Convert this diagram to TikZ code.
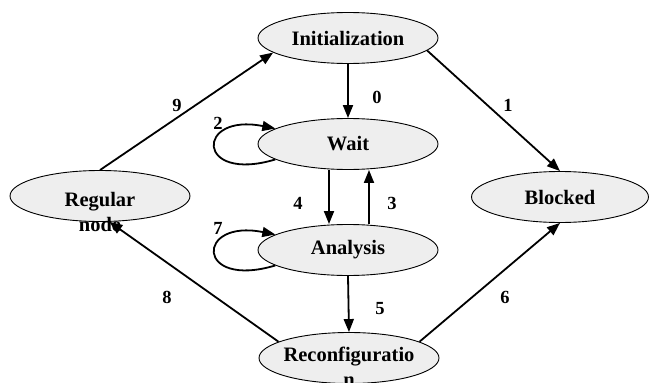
\documentclass[tikz,border=0pt]{standalone}
\usepackage{fontspec}
\setmainfont{Liberation Serif}
\usetikzlibrary{arrows.meta,shapes.geometric}

\definecolor{statefill}{RGB}{238,238,238}

\tikzset{
  state/.style={ellipse, draw=black, line width=0.9pt, fill=statefill,
    minimum width=180pt, minimum height=51pt, inner sep=0pt,
    font=\fontsize{20.5}{25}\selectfont\bfseries},
  statetext/.style={align=center, inner sep=0pt,
    font=\fontsize{20.5}{25}\selectfont\bfseries},
  arr/.style={line width=1.8pt, -{Triangle[length=13pt,width=10pt]}},
  num/.style={inner sep=0pt, font=\fontsize{18.5}{20}\selectfont\bfseries}
}

\begin{document}
\begin{tikzpicture}[x=1pt,y=1pt]
  \useasboundingbox (0,0) rectangle (649,-383);

  % states
  \node[state] (init)  at (348,-38)  {Initialization};
  \node[state] (wait)  at (348,-144) {Wait};
  \node[state] (anal)  at (348,-250) {Analysis};
  \node[state] (reconf) at (349,-358) {};
  \node[state] (reg)   at (100,-196) {};
  \node[state, minimum width=177pt] (blk) at (560,-197) {Blocked};

  % two-line state names
  \node[statetext, anchor=north] (reconft) at (349,-347) {Reconfiguratio\\n};
  \node[statetext, anchor=north] (regt)    at (100,-192) {Regular\\node};

  % transitions
  \draw[arr] (init.south) -- (wait.north);
  \draw[arr] (init.-9.7) -- (blk.north);
  \draw[arr] (reg.north) -- (init.191.5);
  \draw[arr] ([xshift=-19pt]wait.south) -- ([xshift=-19pt]anal.north);
  \draw[arr] ([xshift=21pt]anal.north) -- ([xshift=21pt]wait.south);
  \draw[arr] (anal.south) -- (reconf.north);
  \draw[arr] (reconf.167) -- (reg.290);
  \draw[arr] (reconf.13) -- (blk.south);

  % self loops
  \draw[arr] (wait.192) .. controls +(-80,-24) and +(-80,16) .. (wait.168);
  \draw[arr] (anal.192) .. controls +(-80,-24) and +(-80,16) .. (anal.168);

  % transition numbers
  \node[num] (n0) at (377,-97)  {0};
  \node[num] (n1) at (508,-105) {1};
  \node[num] (n2) at (218,-123) {2};
  \node[num] (n3) at (392,-203) {3};
  \node[num] (n4) at (298,-203) {4};
  \node[num] (n5) at (380,-309) {5};
  \node[num] (n6) at (505,-297) {6};
  \node[num] (n7) at (218,-228) {7};
  \node[num] (n8) at (167,-297) {8};
  \node[num] (n9) at (177,-105) {9};
\end{tikzpicture}
\end{document}
